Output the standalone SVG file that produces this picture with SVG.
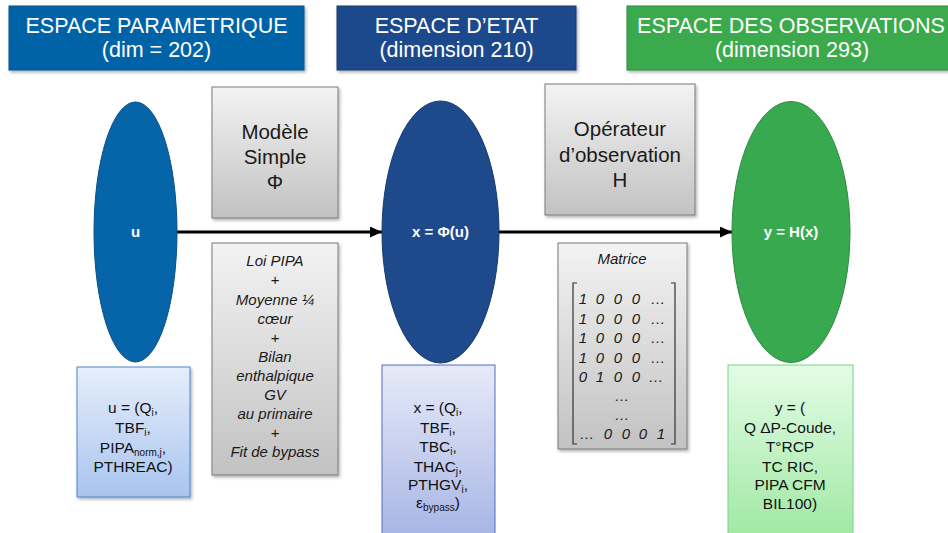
<svg xmlns="http://www.w3.org/2000/svg" width="948" height="533" viewBox="0 0 948 533">
<style>
text{font-family:"Liberation Sans",Arial,sans-serif}
.hd{fill:#ffffff;font-size:21.5px;text-anchor:middle}
.el{fill:#ffffff;font-size:15px;font-weight:bold;text-anchor:middle}
.op{fill:#1a1a1a;font-size:20.5px;text-anchor:middle}
.it{fill:#1a1a1a;font-size:15px;font-style:italic;text-anchor:middle}
.bx{fill:#111111;font-size:15.5px;text-anchor:middle}
.sub{font-size:10px}
.conn{stroke:#000000;stroke-width:3;fill:none}
.gray{fill:url(#gGray);stroke:#7a7a7a;stroke-width:1}
</style>
<defs>
<linearGradient id="gGray" x1="0" y1="0" x2="0" y2="1"><stop offset="0" stop-color="#f3f3f3"/><stop offset="1" stop-color="#c2c2c2"/></linearGradient>
<linearGradient id="gBlue" x1="0" y1="0" x2="0" y2="1"><stop offset="0" stop-color="#e6eefb"/><stop offset="1" stop-color="#a8c4ef"/></linearGradient>
<linearGradient id="gLav" x1="0" y1="0" x2="0" y2="1"><stop offset="0" stop-color="#e6eaf8"/><stop offset="1" stop-color="#a6b4e4"/></linearGradient>
<linearGradient id="gGreen" x1="0" y1="0" x2="0" y2="1"><stop offset="0" stop-color="#e3fce6"/><stop offset="1" stop-color="#9fe8a2"/></linearGradient>
<filter id="sh" x="-10%" y="-10%" width="130%" height="130%"><feDropShadow dx="1.5" dy="2" stdDeviation="1.5" flood-color="#000" flood-opacity="0.3"/></filter>
<marker id="ah" viewBox="0 0 12 11" refX="12" refY="5.5" markerWidth="12" markerHeight="11" markerUnits="userSpaceOnUse" orient="auto"><path d="M0,0 L12,5.5 L0,11 Z" fill="#000"/></marker>
</defs>
<rect width="948" height="533" fill="#ffffff"/>

<g id="connectors">
<line class="conn" x1="177" y1="232" x2="382" y2="232" marker-end="url(#ah)"/>
<line class="conn" x1="499" y1="232" x2="732" y2="232" marker-end="url(#ah)"/>
</g>

<g id="hdr-param">
<rect x="9" y="6" width="295" height="64" fill="#0563a8" stroke="#0a4f85" stroke-width="1" filter="url(#sh)"/>
<text class="hd" x="156.5" y="33">ESPACE PARAMETRIQUE</text>
<text class="hd" x="156.5" y="57">(dim = 202)</text>
</g>
<g id="hdr-etat">
<rect x="337" y="6" width="239" height="64" fill="#1f4a8c" stroke="#17396d" stroke-width="1" filter="url(#sh)"/>
<text class="hd" x="456.5" y="33">ESPACE D’ETAT</text>
<text class="hd" x="456.5" y="57">(dimension 210)</text>
</g>
<g id="hdr-obs">
<rect x="627" y="6" width="330" height="64" fill="#3aaa4e" stroke="#2a8a3c" stroke-width="1" filter="url(#sh)"/>
<text class="hd" x="791" y="33">ESPACE DES OBSERVATIONS</text>
<text class="hd" x="792" y="57">(dimension 293)</text>
</g>

<g id="ell-u">
<ellipse cx="135.5" cy="232" rx="41.5" ry="130" fill="#0565a8" stroke="#0a4f85" stroke-width="1"/>
<text class="el" x="135.5" y="237">u</text>
</g>
<g id="ell-x">
<ellipse cx="440.5" cy="232" rx="58.5" ry="131" fill="#1e4a8b" stroke="#173a6e" stroke-width="1"/>
<text class="el" x="440.5" y="237">x = Φ(u)</text>
</g>
<g id="ell-y">
<ellipse cx="791" cy="232" rx="59" ry="130.5" fill="#39a94f" stroke="#2b8a3e" stroke-width="1"/>
<text class="el" x="791" y="237">y = H(x)</text>
</g>

<g id="op-phi">
<rect class="gray" x="212" y="87" width="126" height="131" filter="url(#sh)"/>
<text class="op" x="275" y="139">Modèle</text>
<text class="op" x="275" y="164">Simple</text>
<text class="op" x="275" y="189">Φ</text>
</g>
<g id="op-h">
<rect class="gray" x="545" y="84" width="150" height="131" filter="url(#sh)"/>
<text class="op" x="620" y="136">Opérateur</text>
<text class="op" x="620" y="162">d’observation</text>
<text class="op" x="620" y="187">H</text>
</g>

<g id="loi">
<rect class="gray" x="212" y="243" width="126" height="232" filter="url(#sh)"/>
<text class="it" x="275" y="266">Loi PIPA</text>
<text class="it" x="275" y="285">+</text>
<text class="it" x="275" y="305">Moyenne ¼</text>
<text class="it" x="275" y="324">cœur</text>
<text class="it" x="275" y="343">+</text>
<text class="it" x="275" y="362">Bilan</text>
<text class="it" x="275" y="381">enthalpique</text>
<text class="it" x="275" y="400">GV</text>
<text class="it" x="275" y="419">au primaire</text>
<text class="it" x="275" y="438">+</text>
<text class="it" x="275" y="457">Fit de bypass</text>
</g>

<g id="matrice">
<rect class="gray" x="558" y="243" width="129" height="206" filter="url(#sh)"/>
<text class="it" x="622" y="264">Matrice</text>
<path d="M577,283 H573 V444 H577 M671,283 H675 V444 H671" fill="none" stroke="#333" stroke-width="1.2"/>
<g class="it">
<text x="583" y="304">1</text><text x="600" y="304">0</text><text x="618" y="304">0</text><text x="636" y="304">0</text><text x="658" y="304">…</text>
<text x="583" y="324">1</text><text x="600" y="324">0</text><text x="618" y="324">0</text><text x="636" y="324">0</text><text x="658" y="324">…</text>
<text x="583" y="343">1</text><text x="600" y="343">0</text><text x="618" y="343">0</text><text x="636" y="343">0</text><text x="658" y="343">…</text>
<text x="583" y="363">1</text><text x="600" y="363">0</text><text x="618" y="363">0</text><text x="636" y="363">0</text><text x="658" y="363">…</text>
<text x="583" y="382">0</text><text x="600" y="382">1</text><text x="618" y="382">0</text><text x="636" y="382">0</text><text x="656" y="382">…</text>
<text x="622" y="401">…</text>
<text x="622" y="420">…</text>
<text x="587" y="439">…</text><text x="608" y="439">0</text><text x="626" y="439">0</text><text x="643" y="439">0</text><text x="661" y="439">1</text>
</g>
</g>

<g id="vec-u">
<rect x="77" y="367" width="113" height="130" fill="url(#gBlue)" stroke="#4a86c8" stroke-width="1" filter="url(#sh)"/>
<text class="bx" x="133" y="413">u = (Q<tspan class="sub" dy="3">i</tspan><tspan dy="-3">,</tspan></text>
<text class="bx" x="133" y="433">TBF<tspan class="sub" dy="3">i</tspan><tspan dy="-3">,</tspan></text>
<text class="bx" x="133" y="453">PIPA<tspan class="sub" dy="3">norm,j</tspan><tspan dy="-3">,</tspan></text>
<text class="bx" x="133" y="472">PTHREAC)</text>
</g>
<g id="vec-x">
<rect x="382" y="365" width="113" height="175" fill="url(#gLav)" stroke="#4f6fbf" stroke-width="1"/>
<text class="bx" x="438" y="413">x = (Q<tspan class="sub" dy="3">i</tspan><tspan dy="-3">,</tspan></text>
<text class="bx" x="438" y="433">TBF<tspan class="sub" dy="3">i</tspan><tspan dy="-3">,</tspan></text>
<text class="bx" x="438" y="452">TBC<tspan class="sub" dy="3">i</tspan><tspan dy="-3">,</tspan></text>
<text class="bx" x="438" y="472">THAC<tspan class="sub" dy="3">j</tspan><tspan dy="-3">,</tspan></text>
<text class="bx" x="438" y="490">PTHGV<tspan class="sub" dy="3">i</tspan><tspan dy="-3">,</tspan></text>
<text class="bx" x="438" y="508">ε<tspan class="sub" dy="3">bypass</tspan><tspan dy="-3">)</tspan></text>
</g>
<g id="vec-y">
<rect x="728" y="365" width="125" height="175" fill="url(#gGreen)" stroke="#7fcf88" stroke-width="1"/>
<text class="bx" x="790" y="413">y = (</text>
<text class="bx" x="790" y="433">Q ΔP-Coude,</text>
<text class="bx" x="790" y="452">T°RCP</text>
<text class="bx" x="790" y="472">TC RIC,</text>
<text class="bx" x="790" y="490">PIPA CFM</text>
<text class="bx" x="790" y="509">BIL100)</text>
</g>
</svg>
